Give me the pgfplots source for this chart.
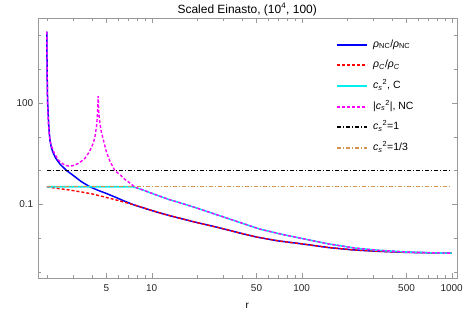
\documentclass[border=0pt]{standalone}
\usepackage{fontspec}
\setmainfont{Liberation Sans}
\usepackage{pgfplots}
\pgfplotsset{compat=1.18}
\definecolor{mmaorange}{RGB}{214,148,82}
\definecolor{mmablue}{RGB}{0,0,255}
\definecolor{mmared}{RGB}{255,0,0}
\definecolor{mmacyan}{RGB}{0,240,240}
\definecolor{mmamagenta}{RGB}{255,0,255}
\definecolor{framegray}{gray}{0.6}
\begin{document}
\begin{tikzpicture}
\useasboundingbox (-37.7bp,-33.7bp) rectangle (425.3bp,278.3bp);
\begin{axis}[
 at={(0,0)}, anchor=south west,
 scale only axis, width=419bp, height=260bp,
 xmode=log, ymode=log,
 xmin=1.74, xmax=1080, ymin=6.5e-4, ymax=3.2e4,
 axis line style={framegray},
 tick style={framegray},
 major tick length=5bp, minor tick length=3bp,
 xtick={5,10,50,100,500,1000}, xticklabels={5,10,50,100,500,1000},
 minor xtick={2,3,4,6,7,8,9,20,30,40,60,70,80,90,200,300,400,600,700,800,900},
 ytick={0.1,100}, yticklabels={0.1,100},
 minor ytick={1e-3,1e-2,1,10,1000,1e4},
 tick label style={font=\fontsize{10}{12}\selectfont, text=black!85},
 xticklabel style={yshift=-2.8bp},
 yticklabel style={xshift=-1bp},
 title={Scaled Einasto, (10\textsuperscript{4}, 100)},
 title style={font=\fontsize{12}{14}\selectfont, at={(0.5,1)}, anchor=base, yshift=-1bp},
 xlabel={r},
 xlabel style={font=\fontsize{10}{12}\selectfont, at={(0.5,0)}, anchor=center, yshift=-27.7bp},
 legend style={draw=none, fill=none, at={(0.712,0.9204)}, anchor=north west,
   font=\fontsize{10.5}{12}\selectfont, row sep=9.66bp, inner sep=0pt, column sep=5bp,
   nodes={inner sep=0pt, text height=8bp, text depth=3bp}},
 legend cell align=left,
 legend image code/.code={\draw[#1, line width=2bp] (0bp,0bp) -- (30bp,0bp);},
]
\addplot[mmablue, line width=1.5bp] coordinates {
(2.000,13000)(2.005,3000)(2.01,900)(2.02,200)(2.03,90)(2.05,35)(2.07,16)(2.10,8.0)
(2.15,4.6)(2.22,3.1)(2.30,2.3)(2.45,1.55)(2.6,1.2)(2.71,1.0)(3.0,0.72)(3.4,0.47)
(3.88,0.33)(4.4,0.26)(5.0,0.21)(5.7,0.165)(6.5,0.128)(7.5,0.099)(8.4,0.084)
(10,0.066)(12,0.052)(15,0.040)(20,0.029)(28,0.0205)(38,0.0145)(50,0.0108)
(70,0.0083)(100,0.0068)(150,0.0053)(220,0.0045)(320,0.0041)(500,0.0038)(700,0.0037)(1000,0.0036)};
\addlegendentry{\textit{ρ}\textsubscript{NC}/\textit{ρ}\textsubscript{NC}}
\addplot[mmared, line width=1.4bp, dash pattern=on 3bp off 2bp] coordinates {
(2.0,0.333)(2.3,0.30)(2.7,0.275)(3.0,0.255)(3.5,0.228)(4.0,0.205)(5.0,0.16)(6.0,0.13)
(7.0,0.108)(8.4,0.085)
(10,0.066)(12,0.052)(15,0.040)(20,0.029)(28,0.0205)(38,0.0145)(50,0.0108)
(70,0.0083)(100,0.0068)(150,0.0053)(220,0.0045)(320,0.0041)(500,0.0038)(700,0.0037)(1000,0.0036)};
\addlegendentry{\textit{ρ}\textsubscript{\textit{C}}/\textit{ρ}\textsubscript{\textit{C}}}
\addplot[mmacyan, line width=1.6bp] coordinates {
(2,0.3333)(7.5,0.3333)(8.0,0.305)(8.4,0.284)(9.0,0.255)(9.75,0.222)(11,0.183)(13,0.14)
(15.4,0.112)(20,0.078)(28.5,0.046)(38,0.030)(52.7,0.0185)(75,0.0128)(105,0.0094)
(150,0.0068)(226,0.0051)(320,0.0044)(500,0.0039)(700,0.0037)(1000,0.0036)};
\addlegendentry{\textit{c\textsubscript{s}}\textsuperscript{2}, C}
\addplot[mmamagenta, line width=1.4bp, dash pattern=on 3bp off 2bp] coordinates {
(2.000,13000)(2.005,2800)(2.01,800)(2.02,170)(2.03,70)(2.05,25)(2.08,11)(2.12,6.5)
(2.16,5.0)(2.25,3.2)(2.38,2.1)(2.5,1.7)(2.64,1.45)(2.8,1.36)(2.95,1.38)(3.08,1.46)
(3.3,1.7)(3.59,2.29)(3.85,3.6)(4.08,6.4)(4.2,10.5)(4.3,22)(4.36,50)(4.40,160)
(4.44,55)(4.52,25)(4.62,14)(4.75,8.5)(5.01,3.4)(5.3,1.8)(5.69,1.0)(6.1,0.78)
(6.63,0.55)(7.2,0.42)(7.6,0.345)(8.0,0.305)(8.4,0.284)(9.0,0.255)(9.75,0.222)(11,0.183)(13,0.14)
(15.4,0.112)(20,0.078)(28.5,0.046)(38,0.030)(52.7,0.0185)(75,0.0128)(105,0.0094)
(150,0.0068)(226,0.0051)(320,0.0044)(500,0.0039)(700,0.0037)(1000,0.0036)};
\addlegendentry{|\textit{c\textsubscript{s}}\textsuperscript{2}|, NC}
\addplot[black, line width=1.2bp, dash pattern=on 4bp off 2bp on 1bp off 2bp] coordinates {(2,1)(1000,1)};
\addlegendentry{\textit{c\textsubscript{s}}\textsuperscript{2}=1}
\addplot[mmaorange, line width=1.2bp, dash pattern=on 4bp off 2bp on 1bp off 2bp] coordinates {(2,0.3333)(1000,0.3333)};
\addlegendentry{\textit{c\textsubscript{s}}\textsuperscript{2}=1/3}
\end{axis}
\end{tikzpicture}
\end{document}
